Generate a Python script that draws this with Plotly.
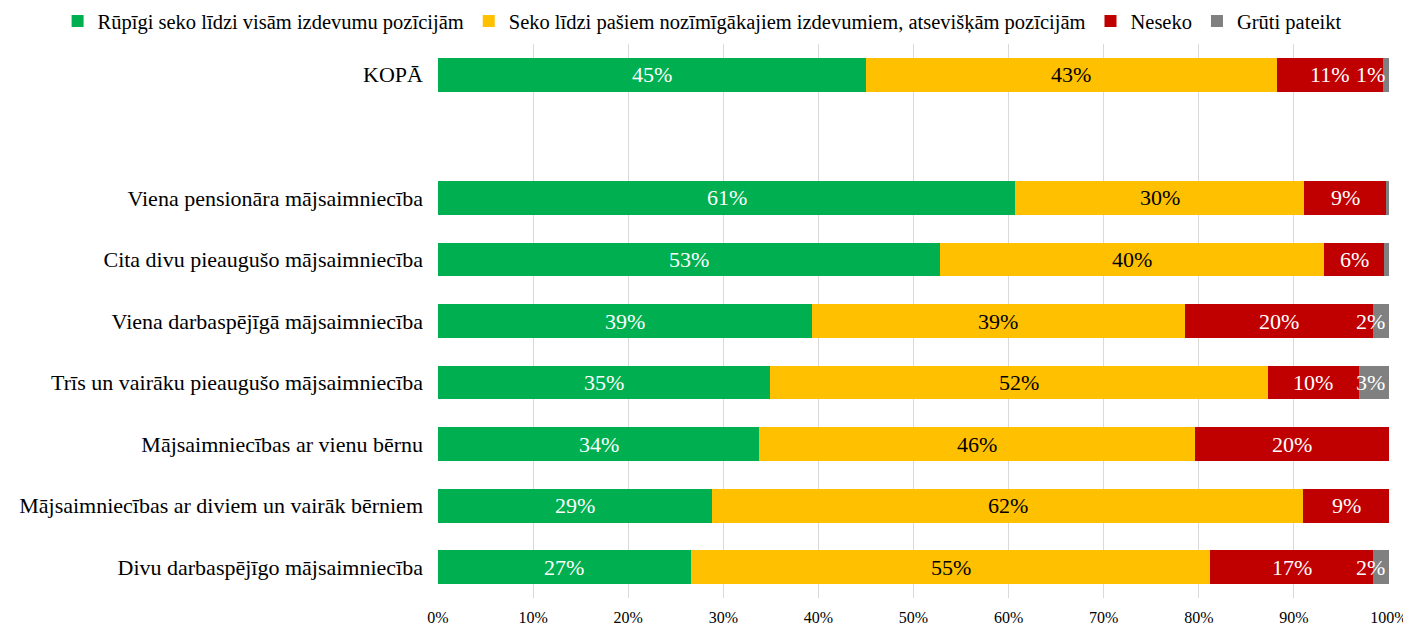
import plotly.graph_objects as go

categories = [
    "KOPĀ",
    "Viena pensionāra mājsaimniecība",
    "Cita divu pieaugušo mājsaimniecība",
    "Viena darbaspējīgā mājsaimniecība",
    "Trīs un vairāku pieaugušo mājsaimniecība",
    "Mājsaimniecības ar vienu bērnu",
    "Mājsaimniecības ar diviem un vairāk bērniem",
    "Divu darbaspējīgo mājsaimniecība",
]
axis_order = ["KOPĀ", " "] + categories[1:]

series_names = [
    "Rūpīgi seko līdzi visām izdevumu pozīcijām",
    "Seko līdzi pašiem nozīmīgākajiem izdevumiem, atsevišķām pozīcijām",
    "Neseko",
    "Grūti pateikt",
]
careful = [45.0, 60.7, 52.8, 39.3, 34.9, 33.8, 28.8, 26.6]
main_only = [43.2, 30.4, 40.4, 39.2, 52.4, 45.8, 62.2, 54.6]
not_follow = [11.2, 8.6, 6.3, 19.8, 9.5, 20.4, 9.0, 17.1]
hard_to_say = [0.6, 0.3, 0.5, 1.7, 3.2, 0.0, 0.0, 1.7]

series_values = [careful, main_only, not_follow, hard_to_say]
colors = ["#00B050", "#FFC000", "#C00000", "#808080"]
text_colors = ["white", "black", "white", "white"]

FONT = "Liberation Serif"

fig = go.Figure()
for name, vals, col in zip(series_names, series_values, colors):
    fig.add_trace(go.Bar(
        y=categories, x=vals, name=name, orientation="h",
        marker=dict(color=col, line=dict(width=0)),
        hoverinfo="x+name",
    ))

annotations = []
for i, cat in enumerate(categories):
    left = 0.0
    for s, vals in enumerate(series_values):
        v = vals[i]
        mid = left + v / 2
        left += v
        r = round(v)
        if r < 1:
            continue
        annotations.append(dict(
            x=min(mid, 98.1), y=cat, xref="x", yref="y",
            text=f"{r}%", showarrow=False,
            font=dict(family=FONT, size=22, color=text_colors[s]),
            xanchor="center", yanchor="middle",
        ))

fig.update_layout(
    barmode="stack",
    bargap=0.45,
    width=1403, height=620,
    margin=dict(l=430, r=22, t=36, b=30, autoexpand=False),
    plot_bgcolor="white", paper_bgcolor="white",
    font=dict(family=FONT, size=20, color="black"),
    legend=dict(
        orientation="h", x=-0.40, xanchor="left", y=1.005, yanchor="bottom",
        font=dict(family=FONT, size=20.5, color="black"),
        traceorder="normal", itemwidth=30,
        bgcolor="rgba(0,0,0,0)",
    ),
    xaxis=dict(
        range=[0, 100], tickvals=list(range(0, 101, 10)),
        ticktext=[f"{t}%" for t in range(0, 101, 10)],
        showgrid=True, gridcolor="#D9D9D9", gridwidth=1,
        zeroline=False, showline=False,
        tickfont=dict(family=FONT, size=16),
        ticks="", ticklabelstandoff=8,
    ),
    yaxis=dict(
        categoryorder="array", categoryarray=axis_order,
        range=[8.5, -0.5], showgrid=False, zeroline=False, showline=False,
        tickfont=dict(family=FONT, size=22), ticks="", ticklabelstandoff=14,
    ),
    annotations=annotations,
)

fig.write_html("out.html")
